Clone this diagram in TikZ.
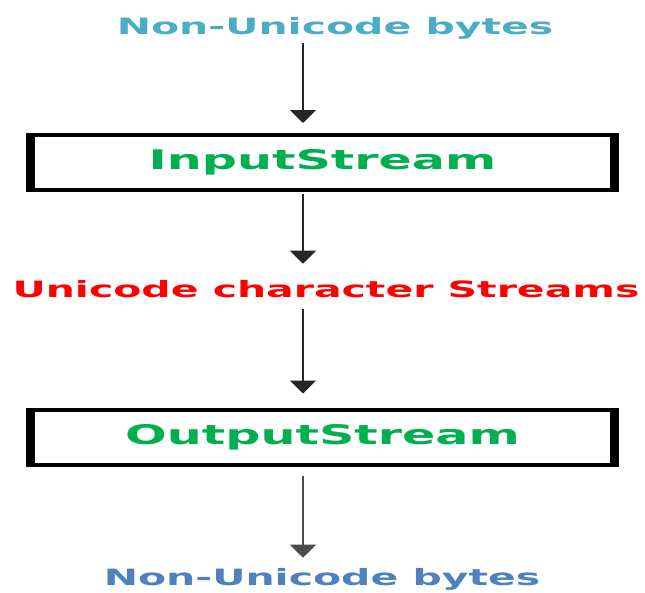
\documentclass[tikz,border=0pt]{standalone}
\usepackage{fontspec}
\newfontfamily\widefont[FakeStretch=1.82]{DejaVu Sans}
\usepackage{tikz}
\usetikzlibrary{arrows.meta, positioning}

\definecolor{byteblue}{RGB}{75,172,198}
\definecolor{bytesteel}{RGB}{79,129,189}
\definecolor{streamgreen}{RGB}{0,176,80}

\begin{document}
\begin{tikzpicture}[
  x=1pt, y=-1pt,
  label/.style={inner sep=0pt, anchor=base, font=\widefont\bfseries\fontsize{22.5}{26}\selectfont},
  stream/.style={
    rectangle, draw=black, line width=4pt, fill=white,
    minimum width=585pt, minimum height=55pt,
    font=\widefont\bfseries\fontsize{27}{30}\selectfont, text=streamgreen
  },
  side/.style={line width=9pt, black},
  arr/.style={-{Triangle[width=26pt, length=13pt]}, line width=2pt, black!85},
]
  \useasboundingbox (0,0) rectangle (645,592);

  % Column of the arrows
  \coordinate (ax) at (303,0);

  % Labels and streams
  \node[label, text=byteblue] (src) at (335,34) {Non-Unicode bytes};
  \node[stream] (inp) at (322.5,162.5) {InputStream};
  \node[label, text=red] (uni) at (326,297) {Unicode character Streams};
  \node[stream] (outp) at (322.5,437) {OutputStream};
  \node[label, text=bytesteel] (dst) at (322,585) {Non-Unicode bytes};

  % Thick sides of the boxes
  \foreach \b in {inp,outp} {
    \draw[side] ([xshift=2.5pt]\b.north west) -- ([xshift=2.5pt]\b.south west);
    \draw[side] ([xshift=-2.5pt]\b.north east) -- ([xshift=-2.5pt]\b.south east);
  }

  % Arrows
  \draw[arr, shorten <=4pt, shorten >=10pt] (src.south -| ax) -- (inp.north -| ax);
  \draw[arr, shorten <=2pt, shorten >=16pt] (inp.south -| ax) -- (uni.north -| ax);
  \draw[arr, shorten <=11pt, shorten >=14pt] (uni.south -| ax) -- (outp.north -| ax);
  \draw[arr, black!70, shorten <=9pt, shorten >=10pt] (outp.south -| ax) -- (dst.north -| ax);
\end{tikzpicture}
\end{document}
